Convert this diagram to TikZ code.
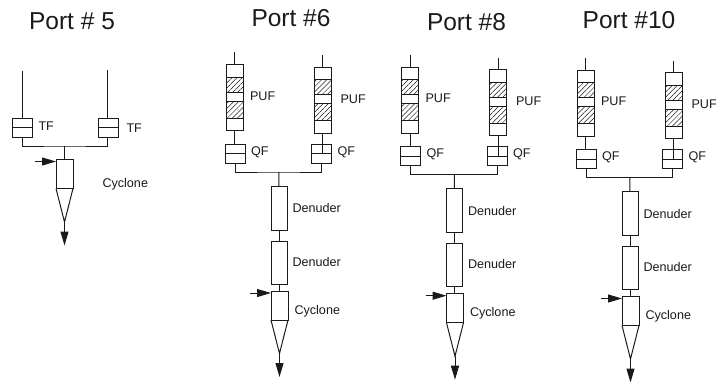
\documentclass[tikz,border=0pt]{standalone}
\usepackage{fontspec}
\setmainfont{Liberation Sans}
\usepackage{xcolor}
\definecolor{linegray}{HTML}{1A1A1A}
\usetikzlibrary{arrows.meta,patterns.meta,calc}

% cyclone with inlet and outlet: name, west x, top y
\newcommand{\cycl}[3]{
  \node[cell, minimum width=17pt, minimum height=29pt, anchor=north west] (#1) at (#2,#3) {};
  \coordinate (#1tip) at ($(#1.south)+(0,-33.5)$);
  \coordinate (#1out) at ($(#1tip)+(0,-23.5)$);
  \coordinate (#1in) at ($(#1.north west)+(-21,-2)$);
  \draw (#1.south west) -- (#1tip) -- (#1.south east);
  \draw[arr] (#1tip) -- (#1out);
  \draw[arr] (#1in) -- (#1in -| #1.west);
}
% filter holder with its cross bar: name, west x, top y
\newcommand{\holder}[3]{
  \node[cell, minimum width=20pt, minimum height=19pt, anchor=north west] (#1) at (#2,#3) {};
  \draw (#1.west) -- (#1.east);
}
% PUF cartridge: name, west x, top y
\newcommand{\cartridge}[3]{
  \node[cell, minimum width=17pt, minimum height=66pt, anchor=north west] (#1) at (#2,#3) {};
  \node[band, minimum height=15pt, anchor=north west] (#1a) at (#2,#3-12.5) {};
  \node[band, minimum height=17pt, anchor=north west] (#1b) at (#2,#3-36.5) {};
}

\begin{document}
\begin{tikzpicture}[
  x=1pt, y=1pt, line width=1pt, draw=linegray,
  cell/.style={draw=linegray, line width=1pt, inner sep=0pt, outer sep=0pt},
  band/.style={cell, minimum width=17pt, pattern={Lines[angle=45,distance=3.6pt,line width=0.5pt]}, pattern color=linegray},
  arr/.style={-{Triangle[length=14pt, width=8pt]}, draw=linegray, fill=linegray},
  lbl/.style={font=\fontsize{12.6}{14}\selectfont, text=linegray, inner sep=0pt, anchor=west},
  ttl/.style={font=\fontsize{24.5}{28}\selectfont, text=linegray, inner sep=0pt, anchor=base}
]
\useasboundingbox (0,0) rectangle (716,-381);

% titles
\node[ttl] (title5) at (72,-29) {Port \# 5};
\node[ttl] (title6) at (291,-26) {Port \#6};
\node[ttl] (title8) at (466.5,-30) {Port \#8};
\node[ttl] (title10) at (629,-28) {Port \#10};

% port 5
\coordinate (inl) at (22,-71);
\coordinate (inr) at (107,-70);
\coordinate (bar5) at (64.5,-146);
\holder{tfl}{12}{-118}
\holder{tfr}{98}{-118}
\cycl{cyc5}{56}{-159.5}
\draw (inl) -- (inl |- tfl.north);
\draw (inr) -- (inr |- tfr.north);
\draw (tfl.south -| inl) |- (bar5) -| (tfr.south -| inr);
\draw (bar5) -- (bar5 |- cyc5.north);
\node[lbl] (tfla) at (38,-126) {TF};
\node[lbl] (tfra) at (126,-128) {TF};
\node[lbl] (cyc5a) at (102,-184) {Cyclone};

% ports 6, 8 and 10 are the same train
\foreach \pn/\dx/\dy in {6/0/0, 8/175.5/2.7, 10/351/5.5} {
\begin{scope}[shift={(\dx,-\dy)}]
  \cartridge{pl\pn}{226}{-64.5}
  \cartridge{pr\pn}{314}{-67}
  \holder{ql\pn}{225}{-144}
  \holder{qr\pn}{311.5}{-144}
  \node[cell, minimum width=16pt, minimum height=44pt, anchor=north west] (da\pn) at (271,-186) {};
  \node[cell, minimum width=16pt, minimum height=43pt, anchor=north west] (db\pn) at (271,-241) {};
  \cycl{cy\pn}{271}{-291}
  \coordinate (tl\pn) at ($(pl\pn.north)+(0,12.5)$);
  \coordinate (tr\pn) at ($(pr\pn.north)+(0,12)$);
  \coordinate (bar\pn) at (278.8,-172);
  \draw (tl\pn) -- (pl\pn.north);
  \draw (tr\pn) -- (pr\pn.north);
  \draw (pl\pn.south) -- (pl\pn.south |- ql\pn.north);
  \draw (pr\pn.south) -- (pr\pn.south |- qr\pn.center);
  \draw (ql\pn.south) |- (bar\pn) -| (qr\pn.south);
  \draw (bar\pn) -- (da\pn.north);
  \draw (da\pn) -- (db\pn);
  \draw (db\pn.south) -- (db\pn.south |- cy\pn.north);
  \node[lbl] at (249.5,-96) {PUF};
  \node[lbl] at (340,-99) {PUF};
  \node[lbl] at (250.5,-152) {QF};
  \node[lbl] at (337,-152) {QF};
  \node[lbl] at (292,-208) {Denuder};
  \node[lbl] at (292,-261.5) {Denuder};
  \node[lbl] at (294,-311) {Cyclone};
\end{scope}
}
\end{tikzpicture}
\end{document}
